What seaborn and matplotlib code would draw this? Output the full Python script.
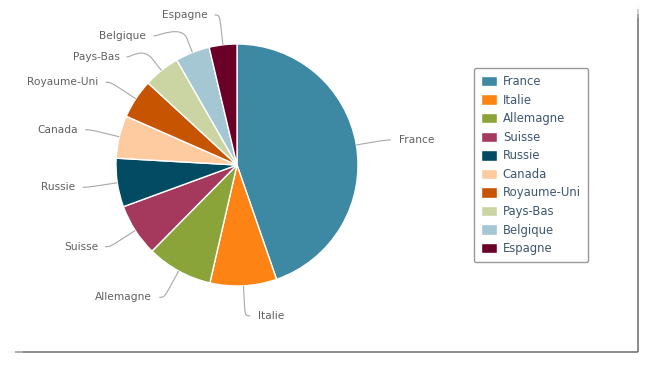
import numpy as np
import matplotlib
matplotlib.use("Agg")
import matplotlib.pyplot as plt
import seaborn as sns
from matplotlib.path import Path
from matplotlib.patches import PathPatch
from matplotlib.collections import LineCollection

# ---- data ----
countries = ["France", "Italie", "Allemagne", "Suisse", "Russie", "Canada",
             "Royaume-Uni", "Pays-Bas", "Belgique", "Espagne"]
shares = [44.7, 8.9, 8.8, 7.0, 6.5, 5.7, 5.25, 4.85, 4.6, 3.7]
colors_hex = ["#3D88A2", "#FD8315", "#8BA43A", "#A4395D", "#034B62",
              "#FECBA0", "#C65401", "#CBD5A4", "#A5C7D3", "#6A0028"]

sns.set_theme(style="white")
plt.rcParams['font.family'] = ['DejaVu Sans']

W, H = 652, 367
fig = plt.figure(figsize=(W / 100, H / 100), dpi=100)
ax = fig.add_axes([0, 0, 1, 1])
palette = sns.color_palette(colors_hex)

cx, cy, R = 237.0, 165.0, 121.0   # screen coords (y down)
def sy(y):
    return H - y

wedges, _ = ax.pie(shares, colors=palette, startangle=90, counterclock=False,
                   center=(cx, sy(cy)), radius=R,
                   wedgeprops=dict(edgecolor='white', linewidth=1.0))
ax.set_xlim(0, W)
ax.set_ylim(0, H)
ax.set_aspect('equal')
ax.axis('off')

# ---- data labels with soft connectors ----
total = float(sum(shares))
cum = np.cumsum([0] + list(shares))
D = R + 30
off = 15
items = []
for i, name in enumerate(countries):
    frac = (cum[i] + shares[i] / 2) / total
    th = 2 * np.pi * frac
    dx, dy = np.sin(th), -np.cos(th)
    left = dx < 0
    y = cy + D * dy
    items.append(dict(name=name, dx=dx, dy=dy, left=left, y=y))

for side in (True, False):
    group = sorted([it for it in items if it['left'] == side], key=lambda d: d['y'])
    prev = None
    for it in group:
        if prev is not None:
            it['y'] = max(it['y'], prev + 21)
        prev = it['y']

for it in items:
    y = it['y']
    sgn = -1 if it['left'] else 1
    x = cx + sgn * np.sqrt(max(D ** 2 - (y - cy) ** 2, 0))
    e = (cx + R * it['dx'], cy + R * it['dy'])
    b = (cx + (R + off) * it['dx'], cy + (R + off) * it['dy'])
    c2 = (2 * b[0] - e[0], 2 * b[1] - e[1])
    start = (x + sgn * 5, y)
    verts = [start, (x, y), c2, b, e]
    verts = [(vx, sy(vy)) for vx, vy in verts]
    codes = [Path.MOVETO, Path.CURVE4, Path.CURVE4, Path.CURVE4, Path.LINETO]
    ax.add_patch(PathPatch(Path(verts, codes), facecolor='none',
                           edgecolor='#A8A8A8', linewidth=0.8))
    tx = x + 13 if not it['left'] else x - 12
    ax.text(tx, sy(y), it['name'], ha='left' if not it['left'] else 'right',
            va='center', fontsize=7.7, color='#606060')

# ---- frame shadow lines (right and bottom) ----
def fading_line(p0, p1, fade_px=12, n=80):
    p0 = np.array(p0, float); p1 = np.array(p1, float)
    L = np.linalg.norm(p1 - p0)
    ts = np.linspace(0, 1, n + 1)
    segs, alphas = [], []
    for a, bb in zip(ts[:-1], ts[1:]):
        segs.append([p0 + (p1 - p0) * a, p0 + (p1 - p0) * bb])
        alphas.append(min(1.0, (a * L) / fade_px + 0.05))
    cols = [(0.42, 0.42, 0.42, al) for al in alphas]
    ax.add_collection(LineCollection(segs, colors=cols, linewidths=1.1))

fading_line((638, sy(5)), (638, sy(352)))
fading_line((7, sy(352)), (638, sy(352)))

# ---- legend ----
leg = ax.legend(wedges, countries, loc='upper left',
                bbox_to_anchor=(474 / W, 1 - 68 / H), bbox_transform=fig.transFigure,
                frameon=True, fancybox=True, fontsize=8.4, labelcolor='#3E576F',
                handlelength=1.37, handleheight=1.0, handletextpad=0.5,
                labelspacing=0.478, borderpad=0.6, borderaxespad=0)
fr = leg.get_frame()
fr.set_edgecolor('#999999')
fr.set_linewidth(1.0)
fr.set_facecolor('white')
fr.set_alpha(1.0)

fig.savefig("out.png", dpi=100)
